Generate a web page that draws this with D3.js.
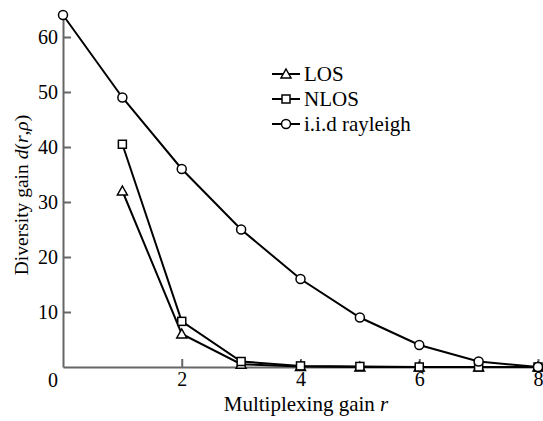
<!DOCTYPE html>
<html>
<head>
<meta charset="utf-8">
<script src="https://cdn.jsdelivr.net/npm/d3@7"></script>
<style>
  body { margin: 0; background: #fff; }
  text { font-family: "Liberation Serif", "Times New Roman", serif; }
</style>
</head>
<body>
<script>
// data
var rVals = [0, 1, 2, 3, 4, 5, 6, 7, 8];
var losVals = [null, 32, 6, 0.5, 0.1, 0, 0, 0, 0];
var nlosVals = [null, 40.5, 8.3, 1, 0.2, 0.1, 0, 0, 0];
var iidVals = [64, 49, 36, 25, 16, 9, 4, 1, 0];
var seriesNames = ["LOS", "NLOS", "i.i.d rayleigh"];
var seriesShapes = ["triangle", "square", "circle"];
var xTicks = [2, 4, 6, 8];
var yTicks = [10, 20, 30, 40, 50, 60];

var width = 543,
    height = 421;
var plotL = 63, plotR = 538, plotT = 15, plotB = 367;
var fs = 20;

var svg = d3.select("body").append("svg")
    .attr("width", width)
    .attr("height", height);

var x = d3.scaleLinear().domain([0, 8]).range([plotL, plotR]);
var y = d3.scaleLinear().domain([0, 64]).range([plotB, plotT]);

// axes, ticks point inward
var xAxis = svg.append("g").attr("transform", "translate(0," + plotB + ")")
    .call(d3.axisBottom(x).tickValues(xTicks).tickSizeInner(-8).tickSizeOuter(0).tickPadding(5));
var yAxis = svg.append("g").attr("transform", "translate(" + plotL + ",0)")
    .call(d3.axisLeft(y).tickValues(yTicks).tickSizeInner(-8).tickSizeOuter(0).tickPadding(5));

[xAxis, yAxis].forEach(function(a) {
  a.attr("font-size", fs).attr("font-family", "'Liberation Serif', serif");
  a.select(".domain").attr("stroke", "#666").attr("stroke-width", 2);
  a.selectAll(".tick line").attr("stroke", "#666").attr("stroke-width", 2);
  a.selectAll(".tick text").attr("fill", "#000");
});

// lone 0 at the corner
svg.append("text").attr("x", 53).attr("y", 387).attr("text-anchor", "middle")
  .attr("font-size", fs).text("0");

// axis titles
svg.append("text").attr("x", 306).attr("y", 411).attr("text-anchor", "middle")
  .attr("font-size", 21)
  .html("Multiplexing gain <tspan font-style='italic'>r</tspan>");

svg.append("text").attr("transform", "translate(28,195) rotate(-90)")
  .attr("text-anchor", "middle").attr("font-size", 19.5)
  .html("Diversity gain <tspan font-style='italic'>d</tspan>(<tspan font-style='italic'>r</tspan>,<tspan font-style='italic'>ρ</tspan>)");

// draw a marker
function marker(g, shape, cx, cy) {
  if (shape === "circle") {
    g.append("circle").attr("cx", cx).attr("cy", cy).attr("r", 4.5)
      .attr("fill", "#fff").attr("stroke", "#000").attr("stroke-width", 1.5);
  } else if (shape === "square") {
    g.append("rect").attr("x", cx - 4).attr("y", cy - 4).attr("width", 8).attr("height", 8)
      .attr("fill", "#fff").attr("stroke", "#000").attr("stroke-width", 1.5);
  } else {
    g.append("path").attr("d", "M" + cx + "," + (cy - 5) + "L" + (cx + 5) + "," + (cy + 4) + "L" + (cx - 5) + "," + (cy + 4) + "Z")
      .attr("fill", "#fff").attr("stroke", "#000").attr("stroke-width", 1.5);
  }
}

var allSeries = [losVals, nlosVals, iidVals];
var line = d3.line()
    .defined(function(d) { return d != null; })
    .x(function(d, i) { return x(rVals[i]); })
    .y(function(d) { return y(d); });

allSeries.forEach(function(vals, k) {
  var g = svg.append("g");
  g.append("path").attr("d", line(vals)).attr("fill", "none")
    .attr("stroke", "#000").attr("stroke-width", 2);
  vals.forEach(function(v, i) {
    if (v != null) marker(g, seriesShapes[k], x(rVals[i]), y(v));
  });
});

// legend
var legendY = [74, 99, 124];
seriesNames.forEach(function(name, k) {
  var g = svg.append("g");
  g.append("line").attr("x1", 272).attr("x2", 300).attr("y1", legendY[k]).attr("y2", legendY[k])
    .attr("stroke", "#000").attr("stroke-width", 2);
  marker(g, seriesShapes[k], 286, legendY[k]);
  g.append("text").attr("x", 304).attr("y", legendY[k] + 7).attr("font-size", 21).text(name);
});
</script>
</body>
</html>
